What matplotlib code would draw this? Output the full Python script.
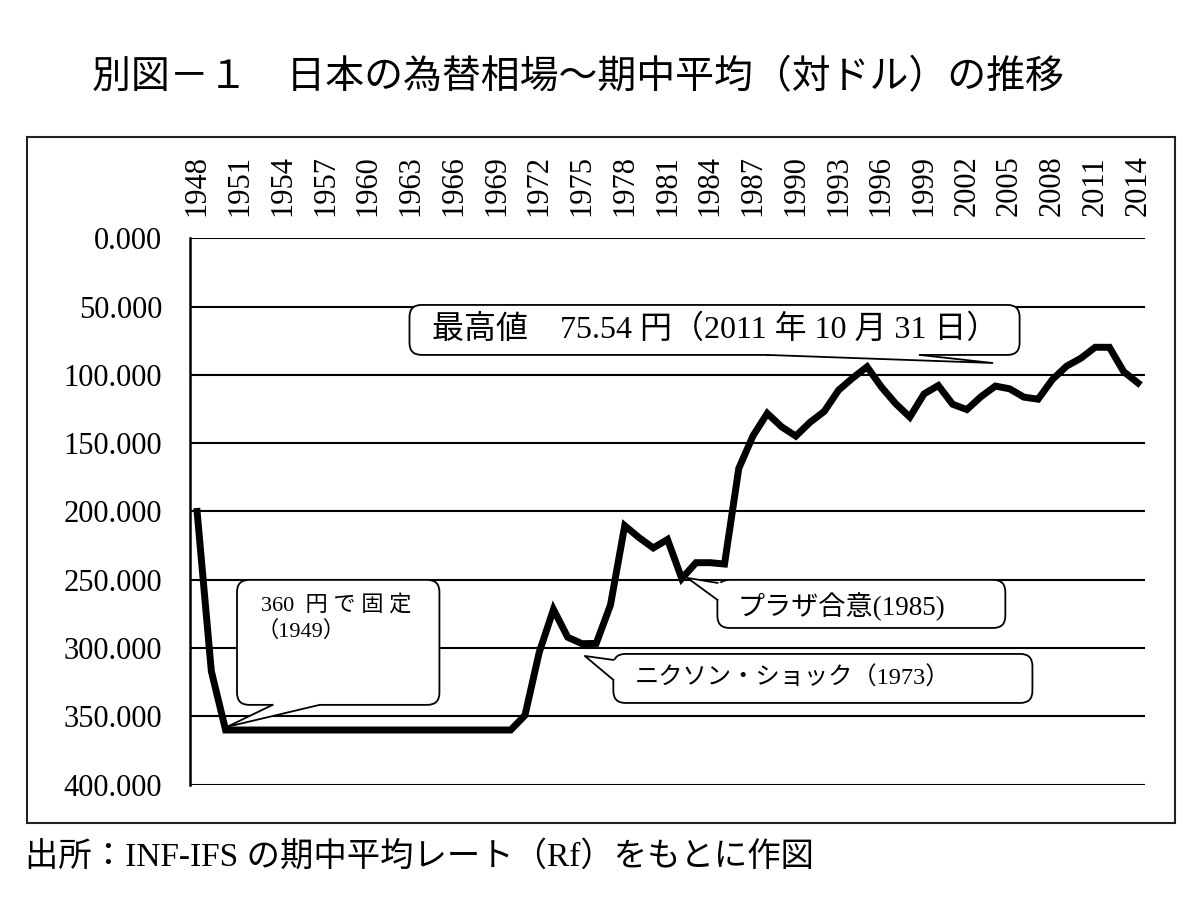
import matplotlib
matplotlib.use("Agg")
import matplotlib.pyplot as plt
import matplotlib.patches as patches

SERIF_JP = ["Liberation Serif", "Noto Sans CJK JP"]
GOTHIC = ["Noto Sans CJK JP", "DejaVu Sans"]

# 年次の期中平均レート（円/ドル）
years = list(range(1948, 2015))
rates = [200.0, 317.0,
         360.0, 360.0, 360.0, 360.0, 360.0, 360.0, 360.0, 360.0, 360.0, 360.0,
         360.0, 360.0, 360.0, 360.0, 360.0, 360.0, 360.0, 360.0, 360.0, 360.0,
         360.0,
         349.3, 303.2, 271.7, 292.1, 296.8, 296.6, 268.5, 210.4, 219.1, 226.7,
         220.5, 249.1, 237.5, 237.5, 238.5, 168.5, 144.6, 128.2, 138.0, 144.8,
         134.7, 126.7, 111.2, 102.2, 94.1, 108.8, 121.0, 130.9, 113.9, 107.8,
         121.5, 125.4, 115.9, 108.2, 110.2, 116.3, 117.8, 103.4, 93.6, 87.8,
         79.8, 79.8, 97.6, 105.9]

tick_years = list(range(1948, 2015, 3))
y_ticks = [0, 50, 100, 150, 200, 250, 300, 350, 400]

title = "別図－１　日本の為替相場～期中平均（対ドル）の推移"
source = "出所：INF-IFS の期中平均レート（Rf）をもとに作図"

# 吹き出し: (box x0, x1, y0, y1), wedge base points, tip, text lines
callouts = [
    dict(box=(1962.9, 2005.7, 48.8, 85.4),
         base=[(1988.0, 85.4), (1998.7, 85.4)], tip=(2003.8, 91.3),
         texts=[(1964.5, 67.0, "最高値　75.54 円（2011 年 10 月 31 日）", 23)]),
    dict(box=(1950.8, 1965.0, 250.1, 341.6),
         base=[(1953.3, 341.6), (1956.6, 341.6)], tip=(1950.1, 357.7),
         texts=[(1952.5, 268.4, "360  円 で 固 定", 16),
                (1952.2, 288.0, "（1949）", 16)]),
    dict(box=(1984.5, 2004.7, 250.1, 285.3),
         base=[(1984.5, 252.3), (1984.5, 264.7)], tip=(1982.4, 248.7),
         texts=[(1985.9, 269.9, "プラザ合意(1985)", 19.5)]),
    dict(box=(1977.2, 2006.6, 304.3, 340.2),
         base=[(1977.2, 308.7), (1977.2, 323.3)], tip=(1975.2, 305.8),
         texts=[(1978.7, 321.7, "ニクソン・ショック（1973）", 17.5)]),
]

fig = plt.figure(figsize=(12, 9.05), dpi=100)
ax = fig.add_axes([0.1583, 0.1330, 0.7959, 0.6037])

for v in y_ticks:
    ax.axhline(v, color="black", linewidth=1.5, zorder=1)

ax.plot(years, rates, color="black", linewidth=5, solid_joinstyle="miter", zorder=3)

# 吹き出しの描画
aspect = 14.26 / 1.366
for c in callouts:
    x0, x1, y0, y1 = c["box"]
    box = patches.FancyBboxPatch((x0, y0), x1 - x0, y1 - y0,
                                 boxstyle="round,pad=0,rounding_size=0.85",
                                 mutation_aspect=aspect,
                                 facecolor="white", edgecolor="black",
                                 linewidth=1.3, zorder=4)
    ax.add_patch(box)
    (bx0, by0), (bx1, by1) = c["base"]
    tx, ty = c["tip"]
    # 内側に少しずらして枠線を消す
    if by0 == by1:
        inner = [(bx0, by0 - 2), (bx1, by1 - 2)]
    else:
        inner = [(bx0 + 0.3, by0), (bx1 + 0.3, by1)]
    wedge = patches.Polygon([inner[0], (bx0, by0), (tx, ty), (bx1, by1), inner[1]],
                            closed=True, facecolor="white", edgecolor="none", zorder=5)
    ax.add_patch(wedge)
    ax.plot([bx0, tx, bx1], [by0, ty, by1], color="black", linewidth=1.3, zorder=6)
    for (x, y, s, fs) in c["texts"]:
        ax.text(x, y, s, ha="left", va="center", fontsize=fs, family=SERIF_JP, zorder=7)

ax.set_xlim(1947.5, 2014.5)
ax.set_ylim(400, 0)
ax.xaxis.tick_top()
ax.set_xticks(tick_years)
ax.set_xticklabels([str(y) for y in tick_years], rotation=90,
                   family="Liberation Serif", fontsize=22)
ax.set_yticks(y_ticks)
ax.set_yticklabels([f"{v:.3f}" for v in y_ticks], family="Liberation Serif", fontsize=22)
ax.tick_params(axis="x", length=0, pad=16)
ax.tick_params(axis="y", length=0, pad=20)
for side in ["top", "right", "bottom"]:
    ax.spines[side].set_visible(False)
ax.spines["left"].set_linewidth(1.8)

frame = patches.Rectangle((0.0225, 0.0906), 0.9567, 0.758, transform=fig.transFigure,
                          fill=False, edgecolor="#222222", linewidth=1.5)
fig.patches.append(frame)

fig.text(0.482, 0.915, title, ha="center", va="center", fontsize=28, family=GOTHIC)
fig.text(0.021, 0.053, source, ha="left", va="center", fontsize=24, family=SERIF_JP)

fig.savefig("out.png", dpi=100)
